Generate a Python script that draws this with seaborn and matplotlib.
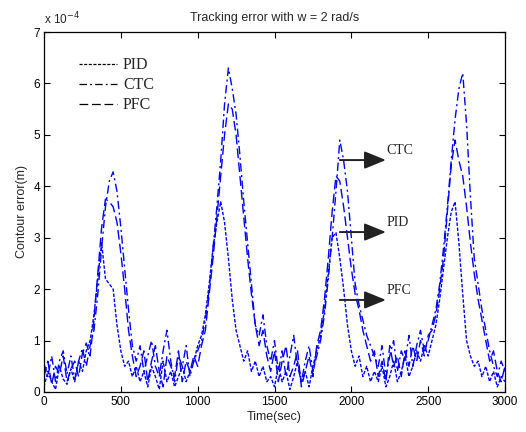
import numpy as np
import pandas as pd
import matplotlib
matplotlib.use("Agg")
import matplotlib.pyplot as plt
from matplotlib.lines import Line2D
import seaborn as sns

# sample times (sec), one reading every 25 s
time_sec = list(range(0, 3001, 25))

# contour error values, in units of 1e-4 m
ctc = [0.55, 0.3, 0.7, 0.2, 0.6, 0.8, 0.35, 0.7, 0.25, 0.6, 0.85, 0.5, 0.9,
       1.2, 1.9, 2.8, 3.6, 4.1, 4.28, 3.9, 3.2, 2.4, 1.6, 0.9, 0.6,
       0.9, 0.4, 0.7, 1.0, 0.5, 0.3, 0.8, 1.2, 0.6, 0.2, 0.7, 0.5, 0.9, 0.3, 0.6,
       0.8, 1.0, 1.4, 2.0, 2.8, 3.6, 4.5, 5.6, 6.3, 5.9, 5.4, 4.6, 3.7, 2.9, 2.1, 1.3, 1.1, 1.5, 0.9,
       0.6, 1.0, 0.4, 0.8, 0.3, 0.7, 1.1, 0.5, 0.2, 0.6, 0.9, 0.4, 0.7,
       1.0, 1.5, 2.2, 3.0, 3.9, 4.9, 4.5, 3.9, 3.0, 2.1, 1.7, 1.4, 1.1, 0.9, 0.7,
       0.5, 0.9, 0.3, 0.7, 1.0, 0.4, 0.8, 0.6, 1.1, 0.5, 0.9, 1.2, 0.8, 1.0, 1.3,
       1.6, 2.1, 2.8, 3.6, 4.5, 5.3, 5.9, 6.2, 5.2, 3.8, 2.6, 2.1, 1.6, 1.2, 0.8, 0.5, 0.3, 0.6, 0.4]

pfc = [0.3, 0.6, 0.15, 0.5, 0.35, 0.7, 0.2, 0.45, 0.6, 0.3, 0.75, 0.95, 0.7,
       1.4, 2.3, 3.2, 3.75, 3.7, 3.6, 3.3, 2.7, 2.0, 1.2, 0.7, 0.3,
       0.5, 0.8, 0.2, 0.6, 0.9, 0.4, 0.1, 0.7, 0.5, 0.3, 0.8, 0.2, 0.6, 0.4, 0.7,
       0.5, 0.9, 1.2, 1.9, 2.6, 3.4, 4.2, 5.0, 5.6, 5.5, 5.0, 4.2, 3.4, 2.6, 1.9, 1.3, 0.9, 1.2, 0.7,
       0.4, 0.8, 0.2, 0.6, 0.9, 0.3, 0.5, 0.8, 0.1, 0.4, 0.7, 0.3, 0.9,
       1.2, 1.8, 2.6, 3.5, 4.2, 4.1, 3.6, 3.0, 2.4, 1.9, 1.6, 1.2, 0.9, 0.6, 0.8,
       0.3, 0.6, 0.2, 0.9, 0.5, 0.7, 0.3, 0.8, 0.5, 0.9, 0.6, 1.0, 0.7, 1.1, 1.2,
       1.5, 2.0, 2.6, 3.5, 4.4, 4.9, 4.5, 4.2, 3.6, 2.9, 2.3, 1.8, 1.4, 1.0, 0.6, 0.8, 0.4, 0.2, 0.5]

pid = [0.1, 0.4, 0.2, 0.05, 0.5, 0.25, 0.15, 0.45, 0.2, 0.6, 0.4, 0.8, 1.0,
       1.5, 2.2, 2.9, 2.2, 2.1, 2.0, 1.3, 0.8, 0.5, 0.6, 0.3, 0.5,
       0.2, 0.4, 0.1, 0.5, 0.3, 0.05, 0.6, 0.2, 0.4, 0.1, 0.3, 0.5, 0.2, 0.4, 0.6,
       0.9, 1.1, 1.5, 2.1, 2.8, 3.3, 3.7, 3.3, 2.6, 1.8, 1.2, 0.9, 0.6, 0.8, 0.4, 0.6, 0.3, 0.5, 0.2,
       0.3, 0.1, 0.5, 0.2, 0.4, 0.05, 0.3, 0.6, 0.2, 0.4, 0.1, 0.5, 0.8,
       1.1, 1.6, 2.3, 3.0, 3.1, 2.6, 2.0, 1.3, 0.8, 0.5, 0.7, 0.3, 0.5, 0.2, 0.4,
       0.2, 0.5, 0.1, 0.3, 0.6, 0.2, 0.4, 0.7, 0.3, 0.5, 0.8, 0.6, 0.9, 0.7, 1.0,
       1.3, 1.8, 2.4, 3.0, 3.5, 3.7, 2.9, 1.9, 1.0, 0.7, 0.5, 0.6, 0.3, 0.5, 0.2, 0.4, 0.1, 0.3, 0.2]

series_names = ["PID", "CTC", "PFC"]
x_ticks = [0, 500, 1000, 1500, 2000, 2500, 3000]
y_ticks = [0, 1, 2, 3, 4, 5, 6, 7]
annot_labels = ["CTC", "PID", "PFC"]
annot_levels = [4.51, 3.11, 1.79]

df = pd.DataFrame({"time": time_sec, "PID": pid, "CTC": ctc, "PFC": pfc})

sns.set_theme(style="ticks")
plt.rcParams["font.family"] = ["Liberation Sans", "DejaVu Sans"]

fig = plt.figure(figsize=(5.26, 4.32), dpi=100)
ax = fig.add_axes([44 / 526, 40 / 432, 461 / 526, 360 / 432])

styles = {"PID": (0, (2.5, 1.2)), "CTC": (0, (6, 2.5, 1.5, 2.5)), "PFC": (0, (7, 3))}
for name in ["PID", "PFC", "CTC"]:
    sns.lineplot(data=df, x="time", y=name, ax=ax, color="#0000ff",
                 linestyle=styles[name], linewidth=1.0)

ax.set_xlim(0, 3000)
ax.set_ylim(0, 7)
ax.set_xticks(x_ticks)
ax.set_yticks(y_ticks)
ax.tick_params(direction="in", top=True, right=True, length=4, width=0.8,
               labelsize=8.5, colors="black", pad=3)
for sp in ax.spines.values():
    sp.set_color("black")
    sp.set_linewidth(0.9)

ax.set_xlabel("Time(sec)", fontsize=9, labelpad=2)
ax.set_ylabel("Contour error(m)", fontsize=9, labelpad=4)
ax.set_title("Tracking error with w = 2 rad/s", fontsize=9, pad=8)
ax.text(0.0, 1.012, r"x 10$^{-4}$", transform=ax.transAxes, fontsize=8.5,
        ha="left", va="bottom")

# legend with black handles, MATLAB style
handles = [Line2D([], [], color="black", linestyle=styles[n], linewidth=0.9) for n in series_names]
ax.legend(handles, series_names, loc="upper left", bbox_to_anchor=(0.045, 0.97),
          frameon=False, handlelength=2.4, handletextpad=0.35, labelspacing=0.25,
          prop={"family": "Liberation Serif", "size": 11.5})

# arrows with labels
for lab, lev in zip(annot_labels, annot_levels):
    ax.annotate("", xy=(2225, lev), xytext=(1925, lev),
                arrowprops=dict(arrowstyle="-|>,head_length=1.1,head_width=0.45",
                                color="#222222", lw=1.4, shrinkA=0, shrinkB=0))
    ax.text(2230, lev + 0.05, lab, fontsize=10, family="Liberation Serif",
            ha="left", va="bottom", color="#222222")

fig.savefig("out.png", dpi=100)
